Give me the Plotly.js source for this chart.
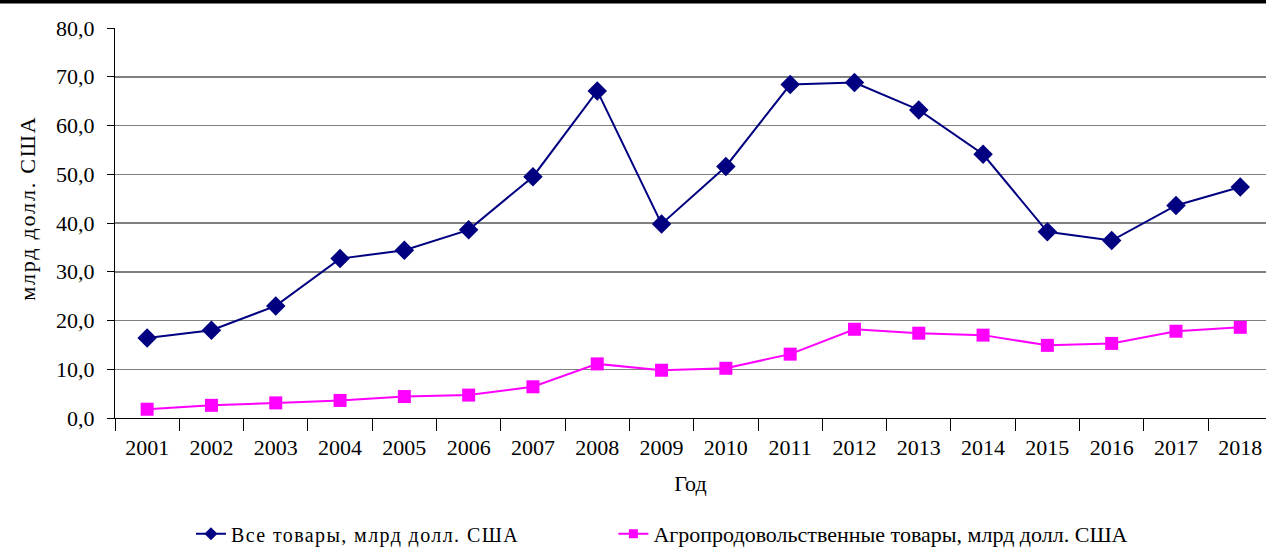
<!DOCTYPE html>
<html>
<head>
<meta charset="utf-8">
<script src="https://cdn.plot.ly/plotly-3.0.1.min.js"></script>
<style>
html,body{margin:0;padding:0;background:#fff;}
#chart{width:1266px;height:549px;}
text.legendtext{letter-spacing:1.4px;}
text.annotation-text{letter-spacing:1.8px;}
</style>
</head>
<body>
<div id="chart"></div>
<script>
const years = ["2001","2002","2003","2004","2005","2006","2007","2008","2009","2010","2011","2012","2013","2014","2015","2016","2017","2018"];
const allGoods = [16.4,18.0,23.0,32.7,34.4,38.6,49.5,67.1,39.8,51.6,68.4,68.8,63.2,54.1,38.2,36.4,43.6,47.4];
const agroGoods = [1.8,2.6,3.1,3.6,4.4,4.7,6.4,11.1,9.8,10.2,13.1,18.2,17.4,17.0,14.9,15.3,17.8,18.6];
const seriesNames = ["Все товары, млрд долл. США","Агропродовольственные товары, млрд долл. США"];
const yTitle = "млрд долл. США";
const xTitle = "Год";

const font = "Times New Roman, Liberation Serif, DejaVu Serif, serif";
const navy = "#000080", magenta = "#FF00FF";
const traces = [
  {x: years, y: allGoods, name: seriesNames[0], type: "scatter", mode: "lines+markers", showlegend: false,
   line: {color: navy, width: 2}, marker: {symbol: "diamond", size: 15, color: navy}},
  {x: years, y: agroGoods, name: seriesNames[1], type: "scatter", mode: "lines+markers", showlegend: false,
   line: {color: magenta, width: 2}, marker: {symbol: "square", size: 13, color: magenta}},
  // legend entries (small legend markers as in the reference)
  {x: [null], y: [null], name: seriesNames[0], type: "scatter", mode: "lines+markers", legend: "legend",
   line: {color: navy, width: 2}, marker: {symbol: "diamond", size: 10, color: navy}},
  {x: [null], y: [null], name: seriesNames[1], type: "scatter", mode: "lines+markers", legend: "legend2",
   line: {color: magenta, width: 2}, marker: {symbol: "square", size: 9, color: magenta}}
];
const legendBase = {orientation: "h", y: -0.297, xanchor: "left", yanchor: "middle",
  font: {family: font, size: 20, color: "#000"}, bgcolor: "rgba(255,255,255,0)", itemwidth: 30};
const layout = {
  width: 1266, height: 549,
  margin: {l: 115, r: 0, t: 28, b: 131, autoexpand: false},
  paper_bgcolor: "#fff", plot_bgcolor: "#fff",
  separators: ", ",
  font: {family: font, size: 22, color: "#000"},
  showlegend: true,
  legend: Object.assign({}, legendBase, {x: 0.066}),
  legend2: Object.assign({}, legendBase, {x: 0.433, font: {family: font, size: 22, color: "#000"}}),
  xaxis: {type: "category", range: [-0.5, 17.4], showgrid: false, zeroline: false,
    showline: true, linecolor: "#000", linewidth: 1,
    ticks: "outside", tickson: "boundaries", ticklen: 12, tickcolor: "#000", tickwidth: 1,
    tickfont: {family: font, size: 22}, ticklabelstandoff: 10,
    title: {text: xTitle, font: {family: font, size: 22}, standoff: 16}},
  yaxis: {range: [0, 80], dtick: 10, tickformat: ".1f", showgrid: true, gridcolor: "#808080", gridwidth: 1.5,
    zeroline: false, showline: true, linecolor: "#000", linewidth: 1,
    ticks: "outside", ticklen: 7, tickcolor: "#000",
    tickfont: {family: font, size: 22}, ticklabelstandoff: 8},
  annotations: [
    {text: yTitle, xref: "paper", yref: "paper", x: -0.076, y: 0.538, xanchor: "center", yanchor: "middle",
     textangle: -90, showarrow: false, font: {family: font, size: 22, color: "#000"}}
  ],
  shapes: [
    {type: "rect", xref: "paper", yref: "paper", x0: -0.2, x1: 1.1, y0: 1.063, y1: 1.2, fillcolor: "#000", line: {width: 0}}
  ]
};
Plotly.newPlot("chart", traces, layout, {displayModeBar: false, staticPlot: true});
</script>
</body>
</html>
